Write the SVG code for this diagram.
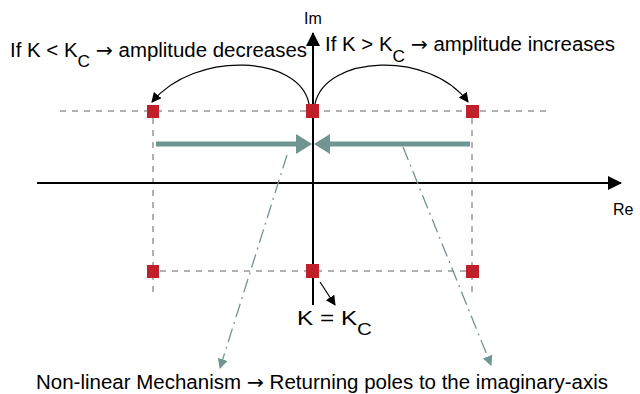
<svg xmlns="http://www.w3.org/2000/svg" width="640" height="394" viewBox="0 0 640 394">
<style>
text{font-family:"Liberation Sans",Arial,sans-serif;fill:#000}
.t{font-size:19.5px}
.s{font-size:16.5px}
.ar{font-family:"DejaVu Sans",sans-serif}
.grid{stroke:#b0b0b0;stroke-width:2;stroke-dasharray:6,6;fill:none}
.axis{stroke:#000;stroke-width:2;fill:none}
.teal{stroke:#6f9591;stroke-width:5;fill:none}
.dd{stroke:#6f9591;stroke-width:1.3;stroke-dasharray:14,5,2,5;fill:none}
.arc{stroke:#000;stroke-width:1.2;fill:none}
.pole{fill:#c0202a}
</style>
<defs>
<marker id="ab" markerWidth="10" markerHeight="10" refX="9" refY="5" orient="auto" markerUnits="userSpaceOnUse"><path d="M0,0 L10,5 L0,10 Z" fill="#000"/></marker>
<marker id="ax" markerWidth="14" markerHeight="14" refX="13" refY="7" orient="auto" markerUnits="userSpaceOnUse"><path d="M0,0 L14,7 L0,14 Z" fill="#000"/></marker>
<marker id="at" markerWidth="10" markerHeight="10" refX="9" refY="5" orient="auto" markerUnits="userSpaceOnUse"><path d="M0,0 L10,5 L0,10 Z" fill="#6f9591"/></marker>
</defs>
<g id="grid">
<line class="grid" x1="60" y1="111" x2="548" y2="111"/>
<line class="grid" x1="148" y1="271" x2="480" y2="271"/>
<line class="grid" x1="153" y1="118" x2="153" y2="292"/>
<line class="grid" x1="472" y1="118" x2="472" y2="292"/>
</g>
<g id="axes">
<line class="axis" x1="37" y1="183" x2="621" y2="183" marker-end="url(#ax)"/>
<line class="axis" x1="313" y1="305" x2="313" y2="33" marker-end="url(#ax)"/>
<text x="313" y="24" text-anchor="middle" style="font-size:16px">Im</text>
<text x="613" y="215" style="font-size:16px">Re</text>
</g>
<g id="connectors">
<path class="arc" d="M309,104 C300,55 195,50 152,102" marker-end="url(#ab)"/>
<path class="arc" d="M315,104 C325,55 430,50 468,102" marker-end="url(#ab)"/>
<line class="teal" x1="156" y1="144" x2="296" y2="144"/>
<path d="M296,134 L312,144 L296,154 Z" fill="#6f9591"/>
<line class="teal" x1="470" y1="144" x2="330" y2="144"/>
<path d="M330,134 L314,144 L330,154 Z" fill="#6f9591"/>
<line class="dd" x1="287" y1="155" x2="220" y2="368" marker-end="url(#at)"/>
<line class="dd" x1="403" y1="147" x2="491" y2="365" marker-end="url(#at)"/>
<line class="arc" x1="320" y1="282" x2="335" y2="305" marker-end="url(#ab)"/>
</g>
<g id="poles">
<rect class="pole" x="147" y="105" width="12" height="13"/>
<rect class="pole" x="306" y="104" width="13" height="14"/>
<rect class="pole" x="466" y="105" width="13" height="13"/>
<rect class="pole" x="147" y="265" width="12" height="13"/>
<rect class="pole" x="306" y="264" width="13" height="14"/>
<rect class="pole" x="466" y="265" width="13" height="13"/>
</g>
<g id="labels">
<text class="t" x="10" y="57" textLength="297" lengthAdjust="spacingAndGlyphs">If K &lt; K<tspan class="s" dy="10">C</tspan><tspan dy="-10"> </tspan><tspan class="ar">→</tspan> amplitude decreases</text>
<text class="t" x="325" y="51" textLength="290" lengthAdjust="spacingAndGlyphs">If K &gt; K<tspan class="s" dy="11">C</tspan><tspan dy="-11"> </tspan><tspan class="ar">→</tspan> amplitude increases</text>
<text class="t" x="297" y="325" textLength="75" lengthAdjust="spacingAndGlyphs">K  =  K<tspan class="s" dy="10">C</tspan></text>
<text class="t" x="36" y="389" textLength="572" lengthAdjust="spacingAndGlyphs">Non-linear Mechanism <tspan class="ar">→</tspan> Returning poles to the imaginary-axis</text>
</g>
</svg>
